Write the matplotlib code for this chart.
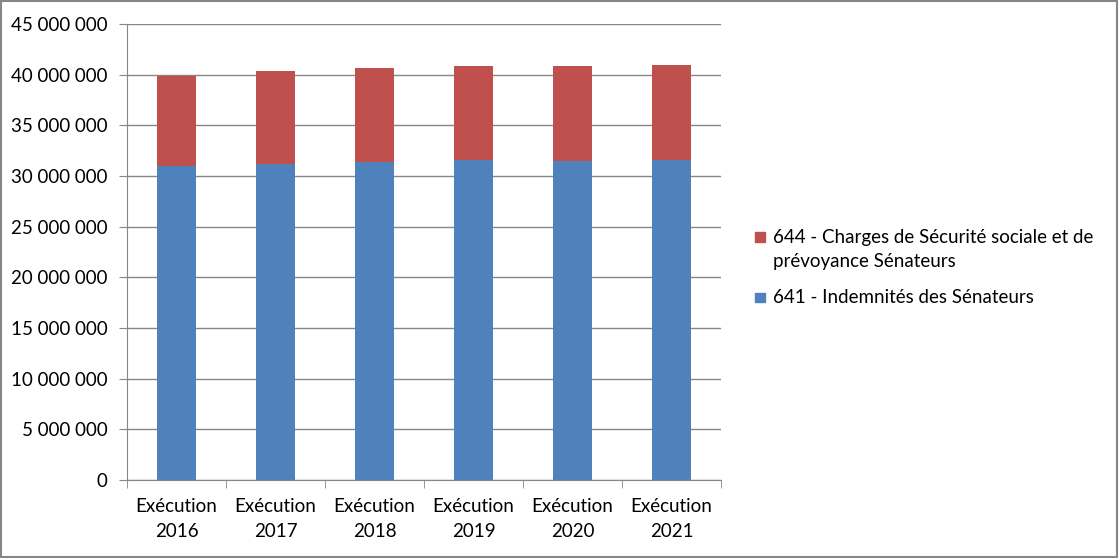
import numpy as np
import matplotlib.pyplot as plt
from matplotlib.patches import Rectangle
from matplotlib.ticker import FuncFormatter

# Data (euros)
years = ["Exécution\n2016", "Exécution\n2017", "Exécution\n2018",
         "Exécution\n2019", "Exécution\n2020", "Exécution\n2021"]
indemnites = [30990000, 31180000, 31380000, 31580000, 31510000, 31580000]
charges = [8880000, 9220000, 9280000, 9280000, 9350000, 9370000]

label_641 = "641 - Indemnités des Sénateurs"
label_644 = "644 - Charges de Sécurité sociale et de\nprévoyance Sénateurs"

BLUE = "#4f81bd"
RED = "#c0504d"
GRID = "#868686"
FS = 13.5
W, H = 1119, 558

plt.rcParams['font.family'] = ['Lato', 'DejaVu Sans']

fig = plt.figure(figsize=(W / 100, H / 100), dpi=100)
ax = fig.add_axes([127 / W, 1 - 480 / H, (721 - 127) / W, (480 - 24) / H])

x = np.arange(len(years))
ax.bar(x, indemnites, width=0.4, color=BLUE, zorder=3)
ax.bar(x, charges, width=0.4, bottom=indemnites, color=RED, zorder=3)

ax.set_xlim(-0.5, len(years) - 0.5)
ax.set_ylim(0, 45000000)
ax.set_yticks(np.arange(0, 45000001, 5000000))
ax.yaxis.set_major_formatter(FuncFormatter(lambda v, p: f"{int(v):,}".replace(",", " ")))
ax.grid(axis='y', color=GRID, linewidth=1, zorder=0)

ax.set_xticks(x)
ax.set_xticklabels(years, fontsize=FS, linespacing=1.55)
ax.set_xticks(np.arange(-0.5, len(years), 1), minor=True)
ax.tick_params(axis='x', which='major', length=0, pad=13)
ax.tick_params(axis='x', which='minor', length=6, color=GRID, direction='out')
ax.tick_params(axis='y', length=6, color=GRID, labelsize=FS, pad=8)

for side in ['top', 'right']:
    ax.spines[side].set_visible(False)
for side in ['left', 'bottom']:
    ax.spines[side].set_color(GRID)

# legend drawn by hand: square aligned with the first text line, like Excel
def legend_item(ypix, color, text):
    fig.patches.append(Rectangle((755 / W, 1 - (ypix + 5) / H), 9.5 / W, 9.5 / H,
                                 transform=fig.transFigure, color=color))
    fig.text(773 / W, 1 - (ypix - 8) / H, text, fontsize=FS, va='top', ha='left',
             linespacing=1.55)

legend_item(236.5, RED, label_644)
legend_item(297, BLUE, label_641)

# outer frame
fig.patches.append(Rectangle((0.001, 0.002), 0.997, 0.996, transform=fig.transFigure,
                             fill=False, edgecolor=GRID, linewidth=1.5))

plt.savefig("out.png", dpi=100)
